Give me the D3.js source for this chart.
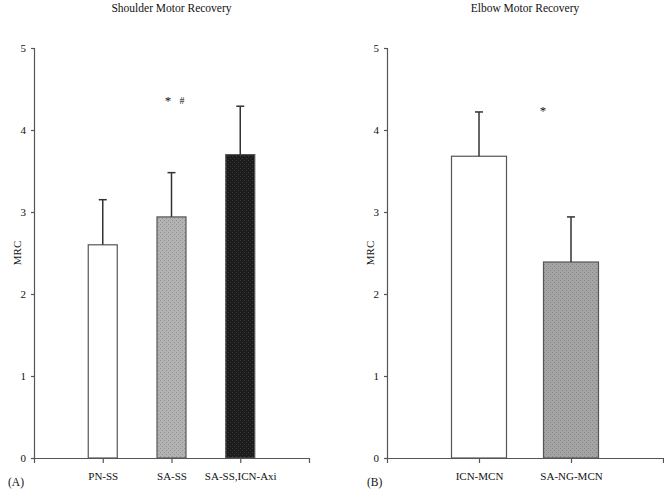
<!DOCTYPE html>
<html><head><meta charset="utf-8">
<script src="https://cdn.jsdelivr.net/npm/d3@7"></script>
<style>body{margin:0;background:#fff}svg{display:block}text{font-family:"Liberation Serif","Times New Roman",serif}</style>
</head><body>
<svg id="c" width="664" height="492"></svg>
<script>
// Data
const shoulderCategories = ["PN-SS", "SA-SS", "SA-SS,ICN-Axi"];
const shoulderMeans = [2.6, 2.94, 3.7];
const shoulderUpper = [3.15, 3.48, 4.29];
const elbowCategories = ["ICN-MCN", "SA-NG-MCN"];
const elbowMeans = [3.68, 2.39];
const elbowUpper = [4.22, 2.94];
const yTicks = [0, 1, 2, 3, 4, 5];
const titles = ["Shoulder Motor Recovery", "Elbow Motor Recovery"];
const panelLabels = ["(A)", "(B)"];

const svg = d3.select("#c");
const defs = svg.append("defs");
function pattern(id, base, dot) {
  const p = defs.append("pattern").attr("id", id).attr("width", 4).attr("height", 4)
    .attr("patternUnits", "userSpaceOnUse");
  p.append("rect").attr("width", 4).attr("height", 4).attr("fill", base);
  p.append("rect").attr("x", 0).attr("y", 0).attr("width", 1).attr("height", 1).attr("fill", dot);
  p.append("rect").attr("x", 2).attr("y", 2).attr("width", 1).attr("height", 1).attr("fill", dot);
}
pattern("pLight", "#b3b3b3", "#8f8f8f");
pattern("pDark", "#1c1c1c", "#3a3a3a");
pattern("pMid", "#a4a4a4", "#858585");

function panel(cfg) {
  const g = svg.append("g");
  const y = d3.scaleLinear().domain([0, 5]).range([458, 48]);
  const x = d3.scalePoint().domain(cfg.cats).range([cfg.x0, cfg.x1]).padding(1);
  // bars
  g.selectAll("rect.bar").data(cfg.cats).join("rect")
    .attr("x", d => x(d) - cfg.bw / 2)
    .attr("y", (d, i) => y(cfg.means[i]))
    .attr("width", cfg.bw)
    .attr("height", (d, i) => y(0) - y(cfg.means[i]))
    .attr("fill", (d, i) => cfg.fills[i])
    .attr("stroke", "#555").attr("stroke-width", 1.2);
  // error bars
  g.selectAll("line.err").data(cfg.cats).join("line")
    .attr("x1", d => x(d)).attr("x2", d => x(d))
    .attr("y1", (d, i) => y(cfg.means[i])).attr("y2", (d, i) => y(cfg.upper[i]))
    .attr("stroke", "#333").attr("stroke-width", 1.5);
  g.selectAll("line.cap").data(cfg.cats).join("line")
    .attr("x1", d => x(d) - 4).attr("x2", d => x(d) + 4)
    .attr("y1", (d, i) => y(cfg.upper[i])).attr("y2", (d, i) => y(cfg.upper[i]))
    .attr("stroke", "#333").attr("stroke-width", 1.5);
  // axes
  const ya = g.append("g").attr("transform", `translate(${cfg.x0},0)`)
    .call(d3.axisLeft(y).tickValues(yTicks).tickFormat(d3.format("d")).tickSizeInner(3).tickSizeOuter(3).tickPadding(5));
  const xa = g.append("g").attr("transform", `translate(0,${y(0)})`)
    .call(d3.axisBottom(x).tickSizeInner(5).tickSizeOuter(5).tickPadding(9));
  [ya, xa].forEach(a => {
    a.selectAll("path,line").attr("stroke", "#555").attr("stroke-width", 1.2);
    a.selectAll("text").attr("font-size", 11).attr("fill", "#111")
      .attr("font-family", '"Liberation Serif","Times New Roman",serif');
  });
  // y label
  g.append("text").attr("transform", `translate(${cfg.yl},253) rotate(-90)`)
    .attr("text-anchor", "middle").attr("font-size", 11).attr("fill", "#111").text("MRC");
  // title
  g.append("text").attr("x", (cfg.x0 + cfg.x1) / 2).attr("y", 12)
    .attr("text-anchor", "middle").attr("font-size", 11.5).attr("fill", "#111").text(cfg.title);
  // panel label
  g.append("text").attr("x", cfg.pl).attr("y", 486).attr("font-size", 11.5).attr("fill", "#111").text(cfg.plabel);
  // significance marks
  cfg.marks.forEach(m => {
    g.append("text").attr("x", m.x).attr("y", y(m.v)).attr("text-anchor", "middle")
      .attr("font-size", m.s).attr("fill", "#111").text(m.t);
  });
}

panel({cats: shoulderCategories, means: shoulderMeans, upper: shoulderUpper,
  x0: 34, x1: 309, bw: 29, fills: ["#fff", "url(#pLight)", "url(#pDark)"],
  yl: 21, title: titles[0], pl: 8, plabel: panelLabels[0],
  marks: [{x: 168, v: 4.3, t: "*", s: 13}, {x: 182, v: 4.32, t: "#", s: 10}]});
panel({cats: elbowCategories, means: elbowMeans, upper: elbowUpper,
  x0: 387, x1: 663, bw: 55, fills: ["#fff", "url(#pMid)"],
  yl: 374, title: titles[1], pl: 367, plabel: panelLabels[1],
  marks: [{x: 543, v: 4.18, t: "*", s: 13}]});
</script>
</body></html>
